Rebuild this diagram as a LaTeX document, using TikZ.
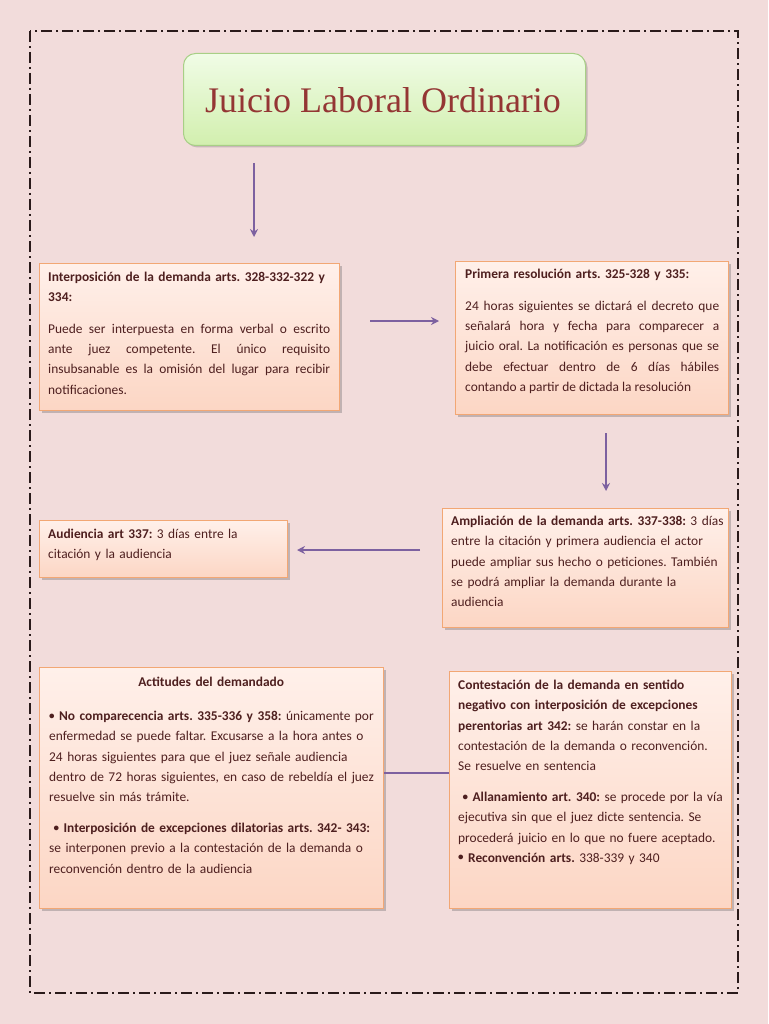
\documentclass[tikz,border=0pt]{standalone}
\usepackage{fontspec}
\setmainfont{Carlito}
\newfontfamily\titlefont{Liberation Serif}
\usetikzlibrary{arrows.meta,shadows}
\definecolor{bgpink}{HTML}{F2DCDB}
\definecolor{framecol}{HTML}{2A1A1A}
\definecolor{boxtop}{HTML}{FFF0EA}
\definecolor{boxbot}{HTML}{FCD6C4}
\definecolor{boxline}{HTML}{F2A774}
\definecolor{greentop}{HTML}{F0FCE6}
\definecolor{greenbot}{HTML}{D2EFAE}
\definecolor{greenline}{HTML}{A8CF86}
\definecolor{titlecol}{HTML}{943634}
\definecolor{txtcol}{HTML}{4E1F1F}
\definecolor{arrcol}{HTML}{7D61A0}
\newcommand{\bodyfont}{\fontsize{13.4}{20.2}\selectfont\frenchspacing}
\newcommand{\bul}{\raisebox{1.6pt}{\fontsize{11}{11}\selectfont •}}
\tikzset{
  pbox/.style={draw=boxline, line width=1pt, top color=boxtop, bottom color=boxbot,
    anchor=north west, inner sep=0pt,
    drop shadow={shadow xshift=2pt, shadow yshift=-2pt, opacity=0.35, fill=black!60}},
  tbox/.style={draw=greenline, line width=1pt, top color=greentop, bottom color=greenbot,
    rounded corners=12pt, anchor=north west, inner sep=0pt,
    drop shadow={shadow xshift=2pt, shadow yshift=-2pt, opacity=0.3, fill=black!60}},
  txt/.style={anchor=north west, inner sep=0pt, text=txtcol, font=\bodyfont},
  arr/.style={draw=arrcol, line width=2.2pt, -{Stealth[length=8pt,width=8pt]}},
  link/.style={draw=arrcol, line width=2.6pt},
  frame/.style={draw=framecol, line width=1.1pt, dash pattern=on 11pt off 4pt on 2pt off 4pt}
}
\begin{document}
\begin{tikzpicture}[x=1pt,y=-1pt]
\fill[bgpink] (0,0) rectangle (768,1024);
\useasboundingbox (0,0) rectangle (768,1024);
\draw[frame] (30,31) rectangle (738,993);

% title
\node[tbox, minimum width=402pt, minimum height=92pt] (title) at (183,53) {};
\node[text=titlecol, font=\titlefont\fontsize{36}{40}\selectfont, inner sep=0pt] (titletxt) at (383,100) {Juicio Laboral Ordinario};

% boxes
\node[pbox, minimum width=300pt, minimum height=147pt] (A) at (39,263) {};
\node[pbox, minimum width=273pt, minimum height=153pt] (B) at (455,261) {};
\node[pbox, minimum width=286pt, minimum height=119pt] (C) at (442,508) {};
\node[pbox, minimum width=248pt, minimum height=57pt] (D) at (39,520) {};
\node[pbox, minimum width=344pt, minimum height=241pt] (E) at (39,667) {};
\node[pbox, minimum width=282pt, minimum height=237pt] (F) at (449,671) {};

% texts
\node[txt, text width=284pt, align=left] (Ah) at (48,272) {\textbf{Interposición de la demanda arts. 328-332-322 y\\334:}};
\node[txt, text width=282pt, align=justify] (Ab) at (48,324) {Puede ser interpuesta en forma verbal o escrito\linebreak ante juez competente. El único requisito\linebreak insubsanable es la omisión del lugar para recibir\linebreak notificaciones.};

\node[txt, text width=270pt, align=left] (Bh) at (465,269) {\textbf{Primera resolución arts. 325-328 y 335:}};
\node[txt, text width=254pt, align=justify] (Bb) at (465,301) {24 horas siguientes se dictará el decreto que\linebreak señalará hora y fecha para comparecer a\linebreak juicio oral. La notificación es personas que se\linebreak debe efectuar dentro de 6 días hábiles\linebreak contando a partir de dictada la resolución};

\node[txt, text width=240pt, align=left] (Dt) at (48,529) {\textbf{Audiencia art 337:} 3 días entre la\\citación y la audiencia};

\node[txt, text width=285pt, align=left] (Ct) at (451,516) {\textbf{Ampliación de la demanda arts. 337-338:} 3 días\\entre la citación y primera audiencia el actor\\puede ampliar sus hecho o peticiones. También\\se podrá ampliar la demanda durante la\\audiencia};

\node[txt, text width=330pt, align=center] (Et) at (46,677) {\textbf{Actitudes del demandado}};
\node[txt, text width=345pt, align=left] (Eb1) at (49,711) {\textbf{\bul\ No comparecencia arts. 335-336 y 358:} únicamente por\\enfermedad se puede faltar. Excusarse a la hora antes o\\24 horas siguientes para que el juez señale audiencia\\dentro de 72 horas siguientes, en caso de rebeldía el juez\\resuelve sin más trámite.};
\node[txt, text width=345pt, align=left] (Eb2) at (49,823) {\textbf{\ \bul\ Interposición de excepciones dilatorias arts. 342- 343:}\\se interponen previo a la contestación de la demanda o\\reconvención dentro de la audiencia};

\node[txt, text width=285pt, align=left] (Ft1) at (458,680) {\textbf{Contestación de la demanda en sentido\\negativo con interposición de excepciones\\perentorias art 342:} se harán constar en la\\contestación de la demanda o reconvención.\\Se resuelve en sentencia};
\node[txt, text width=285pt, align=left] (Ft2) at (458,792) {\textbf{\ \bul\ Allanamiento art. 340:} se procede por la vía\\ejecutiva sin que el juez dicte sentencia. Se\\procederá juicio en lo que no fuere aceptado.\\\textbf{\bul\ Reconvención arts.} 338-339 y 340};

% connectors
\coordinate (a1s) at (254,163);
\coordinate (a1e) at (254,237);
\coordinate (a2s) at (370,321);
\coordinate (a2e) at (439,321);
\coordinate (a3s) at (606,433);
\coordinate (a3e) at (606,491);
\coordinate (a4s) at (420,550);
\coordinate (a4e) at (297,550);
\draw[arr] (a1s) -- (a1e);
\draw[arr] (a2s) -- (a2e);
\draw[arr] (a3s) -- (a3e);
\draw[arr] (a4s) -- (a4e);
\draw[link] (E.east |- 0,773) -- (F.west |- 0,773);
\end{tikzpicture}
\end{document}
